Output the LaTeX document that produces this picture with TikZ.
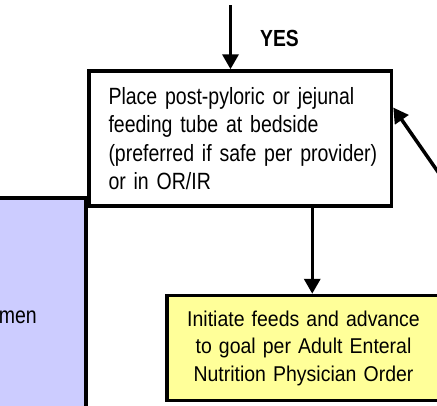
\documentclass[tikz,border=0pt]{standalone}
\usepackage{fontspec}
\usepackage{xcolor}
\usetikzlibrary{arrows.meta}
\setmainfont{Liberation Sans}
\newfontfamily\boxfont[FakeStretch=0.83]{Liberation Sans}
\newfontfamily\orderfont[FakeStretch=0.91]{Liberation Sans}
\definecolor{Lavender}{HTML}{CCCCFF}
\definecolor{PaleYellow}{HTML}{FFFF99}

\begin{document}
\begin{tikzpicture}[x=1pt, y=-1pt,
	actbox/.style={draw, line width=3.5pt, inner sep=0pt},
	flow/.style={line width=3.5pt, -{Triangle[length=15pt, width=16pt]}}]
\useasboundingbox (0,0) rectangle (437,405);
\clip (0,0) rectangle (437,405);

\node[actbox, fill=Lavender, minimum width=140pt, minimum height=240pt, anchor=north east] (route) at (87.5,196) {};
\node[font={\boxfont\fontsize{23.5}{28.3}\selectfont}, anchor=base east, inner sep=0pt] (routetext) at (37,323) {men};

\node[actbox, fill=white, minimum width=302.5pt, minimum height=135pt, inner xsep=19.5pt, text width=263.5pt, align=left, font={\boxfont\fontsize{23.5}{28.3}\selectfont}] (place) at (240.25,138.5)
	{Place post-pyloric or jejunal\\ feeding tube at bedside\\ \mbox{(preferred if safe per provider)}\\ or in OR/IR};

\node[actbox, fill=PaleYellow, minimum width=273pt, minimum height=105pt, text width=260pt, align=center, font={\orderfont\fontsize{21.4}{27.5}\selectfont}] (feeds) at (303.5,348)
	{Initiate feeds and advance\\ to goal per Adult Enteral\\ Nutrition Physician Order};

\coordinate (top) at (230.5,5);
\coordinate (back) at (461,205);

\draw[flow] (top) -- (top |- place.north);
\node[font={\boxfont\bfseries\fontsize{23.3}{28}\selectfont}, anchor=base west, inner sep=0pt] (yes) at (260,46.7) {YES};

\draw[flow] ([xshift=72pt]place.south) -- ([xshift=72pt]place.south |- feeds.north);
\draw[flow] (back) -- ([yshift=31pt]place.east);

\end{tikzpicture}
\end{document}
